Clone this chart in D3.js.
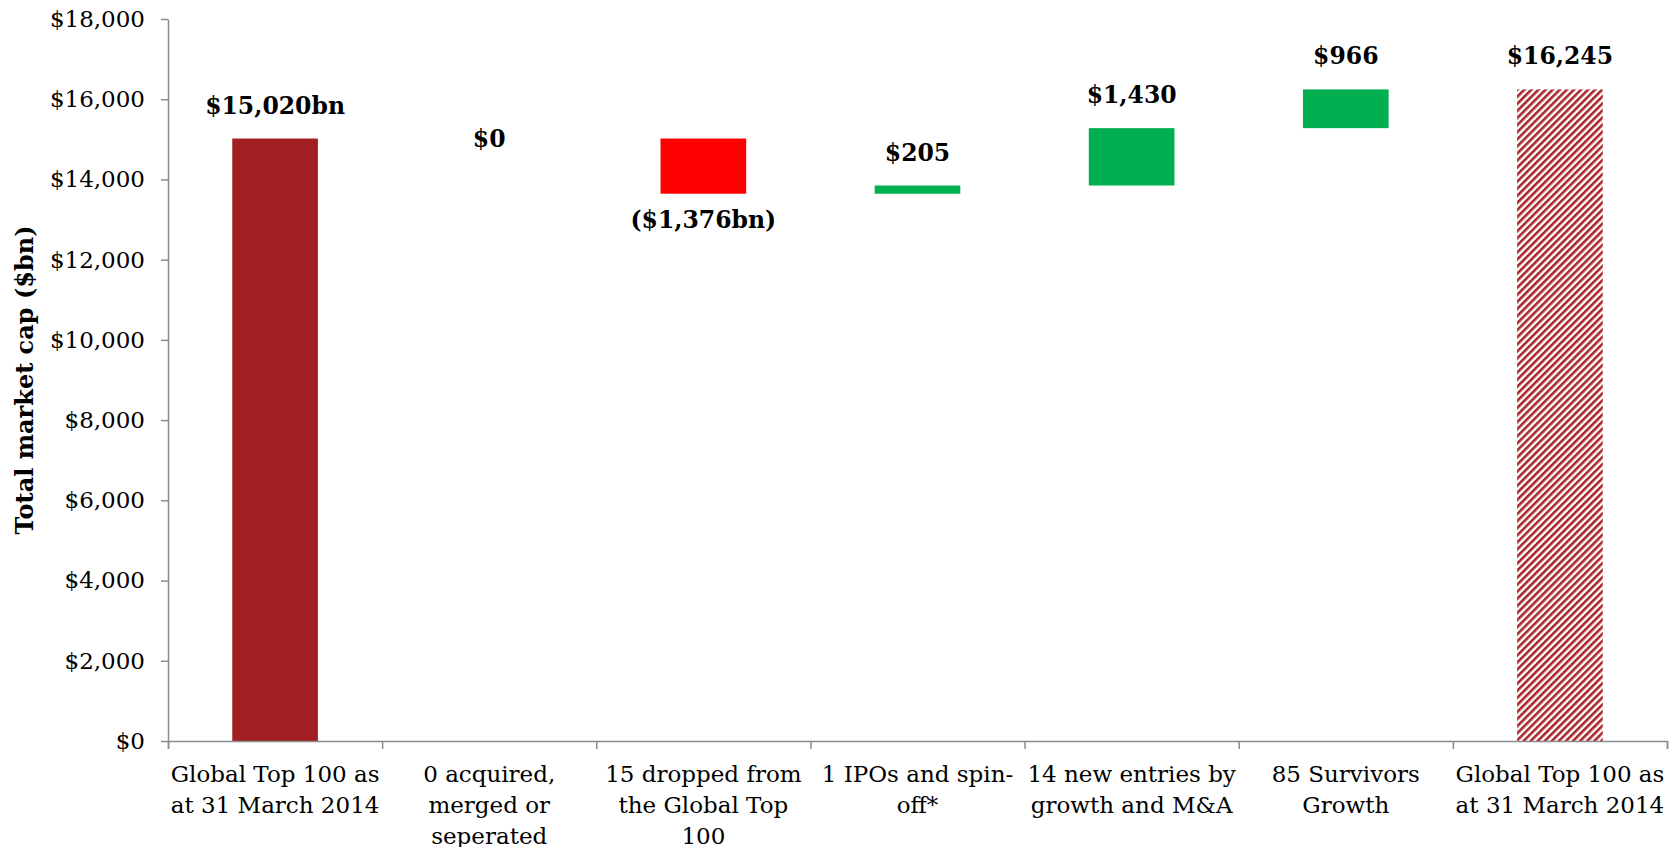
<!DOCTYPE html>
<html>
<head>
<meta charset="utf-8">
<script src="https://cdn.jsdelivr.net/npm/d3@7"></script>
<style>
  body { margin: 0; background: #fff; }
  svg text { font-family: Georgia, 'DejaVu Serif', serif; fill: #000; }
  .axis path, .axis line { stroke: #8c8c8c; stroke-width: 1.5; }
  .axis text { font-size: 23px; }
  .vlabel { font-size: 23.5px; font-weight: bold; }
</style>
</head>
<body>
<svg id="chart" width="1680" height="847"></svg>
<script>
const categories = [
    'Global Top 100 as\nat 31 March 2014',
    '0 acquired,\nmerged or\nseperated',
    '15 dropped from\nthe Global Top\n100',
    '1 IPOs and spin-\noff*',
    '14 new entries by\ngrowth and M&A',
    '85 Survivors\nGrowth',
    'Global Top 100 as\nat 31 March 2014'
]
const values = [15020, 0, -1376, 205, 1430, 966, 16245]
const kinds = ['start', 'delta', 'delta', 'delta', 'delta', 'delta', 'end']
const valueLabels = ['$15,020bn', '$0', '($1,376bn)', '$205', '$1,430', '$966', '$16,245']
const yTicks = [0, 2000, 4000, 6000, 8000, 10000, 12000, 14000, 16000, 18000]

const plotLeft = 168, plotRight = 1667, plotTop = 19, plotBottom = 741

// running totals for the floating bars
let run = 0
const bars = values.map((v, i) => {
    let y0, y1
    if (kinds[i] === 'delta') { y0 = run; y1 = run + v; run = y1 }
    else { y0 = 0; y1 = v; run = v }
    return { i, v, kind: kinds[i], lo: Math.min(y0, y1), hi: Math.max(y0, y1) }
})

const x = d3.scaleBand().domain(d3.range(categories.length))
    .range([plotLeft, plotRight]).paddingInner(0.6).paddingOuter(0.3)
const y = d3.scaleLinear().domain([0, 18000]).range([plotBottom, plotTop])

const svg = d3.select('#chart')

// hatch for the closing total
const defs = svg.append('defs')
defs.append('pattern')
    .attr('id', 'hatch')
    .attr('patternUnits', 'userSpaceOnUse')
    .attr('width', 5).attr('height', 5)
    .attr('patternTransform', 'rotate(45)')
  .call(p => p.append('rect').attr('width', 5).attr('height', 5).attr('fill', '#fff'))
  .append('rect')
    .attr('width', 2.6).attr('height', 5)
    .attr('fill', '#a8262b')

function fillFor(d) {
    if (d.kind === 'start') return '#a21f22'
    if (d.kind === 'end') return 'url(#hatch)'
    return d.v < 0 ? '#ff0000' : '#00b050'
}

// Bars
svg.append('g').selectAll('rect')
    .data(bars.filter(d => d.v !== 0))
    .enter().append('rect')
        .attr('x', d => x(d.i))
        .attr('y', d => y(d.hi))
        .attr('width', x.bandwidth())
        .attr('height', d => y(d.lo) - y(d.hi))
        .attr('fill', fillFor)

// Y axis
svg.append('g').classed('axis', true)
    .attr('transform', `translate(${plotLeft},0)`)
    .call(d3.axisLeft(y)
        .tickValues(yTicks)
        .tickFormat(d => '$' + d3.format(',')(d))
        .tickSize(7)
        .tickPadding(16)
        .tickSizeOuter(0))

// X axis: ticks on category boundaries
const xb = d3.scaleLinear().domain([0, categories.length]).range([plotLeft, plotRight])
svg.append('g').classed('axis', true)
    .attr('transform', `translate(0,${plotBottom})`)
    .call(d3.axisBottom(xb).ticks(categories.length).tickSize(8).tickFormat('').tickSizeOuter(8))

// X category labels
const xLab = svg.append('g').classed('axis', true)
    .attr('transform', `translate(0,${plotBottom})`)
    .call(d3.axisBottom(x).tickSize(0).tickFormat(''))
xLab.select('.domain').remove()
xLab.selectAll('.tick').each(function(d) {
    const t = d3.select(this).append('text')
        .attr('text-anchor', 'middle')
        .attr('y', 41)
    categories[d].split('\n').forEach((line, k) => {
        t.append('tspan').attr('x', 0).attr('dy', k ? 31 : 0).text(line)
    })
})

// Value labels
svg.append('g').selectAll('text')
    .data(bars)
    .enter().append('text')
        .classed('vlabel', true)
        .attr('text-anchor', 'middle')
        .attr('dominant-baseline', 'central')
        .attr('x', d => x(d.i) + x.bandwidth() / 2)
        .attr('y', d => d.v < 0 ? y(d.lo) + 26 : y(d.hi) - (d.v === 0 ? 0 : 33))
        .text(d => valueLabels[d.i])

// Y axis title
svg.append('text')
    .attr('transform', `translate(24,${(plotTop + plotBottom) / 2}) rotate(-90)`)
    .attr('text-anchor', 'middle')
    .attr('dominant-baseline', 'central')
    .style('font-size', '24px')
    .style('font-weight', 'bold')
    .text('Total market cap ($bn)')
</script>
</body>
</html>
